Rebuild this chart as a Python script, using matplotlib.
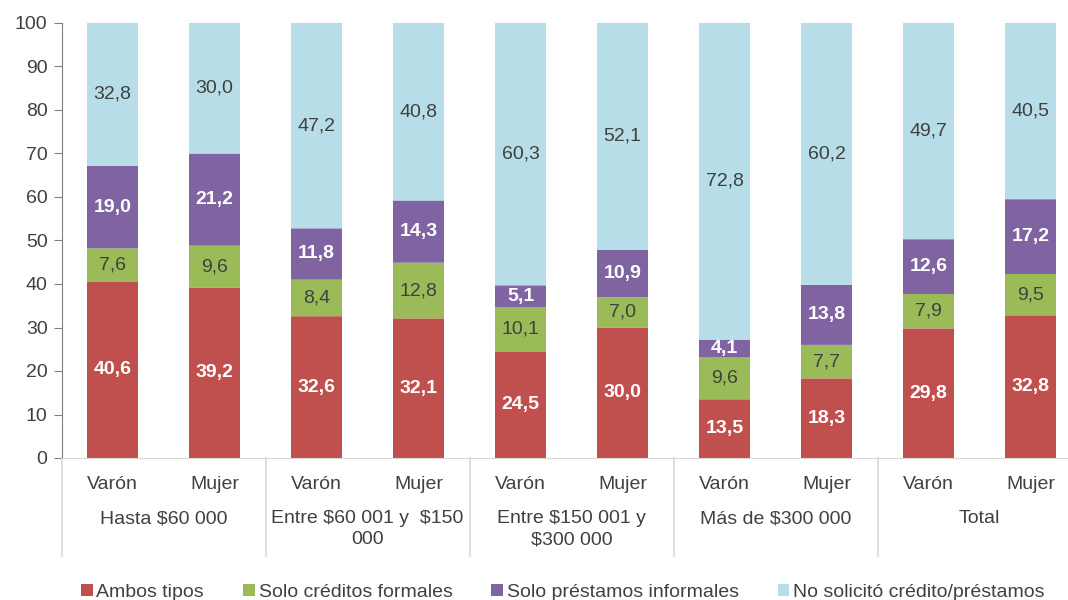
import numpy
import matplotlib
matplotlib.use("Agg")
import matplotlib.pyplot as pyplot
import matplotlib.transforms as transforms
from matplotlib.patches import Patch

pyplot.rcParams["font.family"] = ["Liberation Sans", "DejaVu Sans"]
pyplot.rcParams["text.parse_math"] = False

# --- Data ---
groups = ["Hasta $60 000", "Entre $60 001 y  $150\n000", "Entre $150 001 y\n$300 000",
          "Más de $300 000", "Total"]
sexes = ["Varón", "Mujer"]
seriesNames = ["Ambos tipos", "Solo créditos formales", "Solo préstamos informales",
               "No solicitó crédito/préstamos"]
ambos = [40.6, 39.2, 32.6, 32.1, 24.5, 30.0, 13.5, 18.3, 29.8, 32.8]
formales = [7.6, 9.6, 8.4, 12.8, 10.1, 7.0, 9.6, 7.7, 7.9, 9.5]
informales = [19.0, 21.2, 11.8, 14.3, 5.1, 10.9, 4.1, 13.8, 12.6, 17.2]
noSolicito = [32.8, 30.0, 47.2, 40.8, 60.3, 52.1, 72.8, 60.2, 49.7, 40.5]

colors = ["#C0504D", "#9BBB59", "#8064A2", "#B7DEE8"]
textColor = "#404040"
lineColor = "#D9D9D9"
fontSize = 14

series = [ambos, formales, informales, noSolicito]
labelStyles = [
    {"color": "white", "fontweight": "bold"},
    {"color": textColor, "fontweight": "normal"},
    {"color": "white", "fontweight": "bold"},
    {"color": textColor, "fontweight": "normal"},
]

figure = pyplot.figure(figsize=(10.68, 6.0), dpi=100)
axis = figure.add_axes([61.5 / 1068, 1 - 458 / 600, 1020 / 1068, 435 / 600])

nBars = len(ambos)
x = numpy.arange(nBars)
bottom = numpy.zeros(nBars)
for values, color, style in zip(series, colors, labelStyles):
    values = numpy.asarray(values)
    axis.bar(x, values, width=0.5, bottom=bottom, color=color, edgecolor="none",
             linewidth=0, snap=False)
    for xi, b, v in zip(x, bottom, values):
        axis.text(xi, b + v / 2, f"{v:.1f}".replace(".", ","), ha="center", va="center",
                  fontsize=fontSize, **style)
    bottom = bottom + values

axis.set_xlim(-0.5, nBars - 0.5)
axis.set_ylim(0, 100)
axis.set_yticks(range(0, 101, 10))
axis.tick_params(axis="y", labelsize=fontSize, labelcolor=textColor, color="#808080",
                 length=6, direction="out", pad=4)
axis.set_xticks(x)
axis.set_xticklabels(sexes * len(groups))
axis.tick_params(axis="x", length=0, labelsize=fontSize, labelcolor=textColor, pad=13)

for side in ["top", "right"]:
    axis.spines[side].set_visible(False)
axis.spines["left"].set_color("#808080")
axis.spines["bottom"].set_color(lineColor)

# Group labels and separators
blend = transforms.blended_transform_factory(axis.transData, axis.transAxes)
for i, name in enumerate(groups):
    axis.text(2 * i + 0.5, -0.12, name, transform=blend, ha="center", va="top",
              fontsize=fontSize, color=textColor, linespacing=1.3)
for i in range(len(groups) + 1):
    axis.plot([2 * i - 0.5, 2 * i - 0.5], [0, -0.225], transform=blend, color=lineColor,
              linewidth=1.2, clip_on=False)

handles = [Patch(facecolor=c, edgecolor="none") for c in colors]
figure.legend(handles, seriesNames, loc="center", bbox_to_anchor=(0.527, 0.013), ncol=4,
              frameon=False, fontsize=fontSize, handlelength=0.6, handleheight=0.6,
              handletextpad=0.2, columnspacing=2.0, labelcolor=textColor)

figure.savefig("out.png", dpi=100)
